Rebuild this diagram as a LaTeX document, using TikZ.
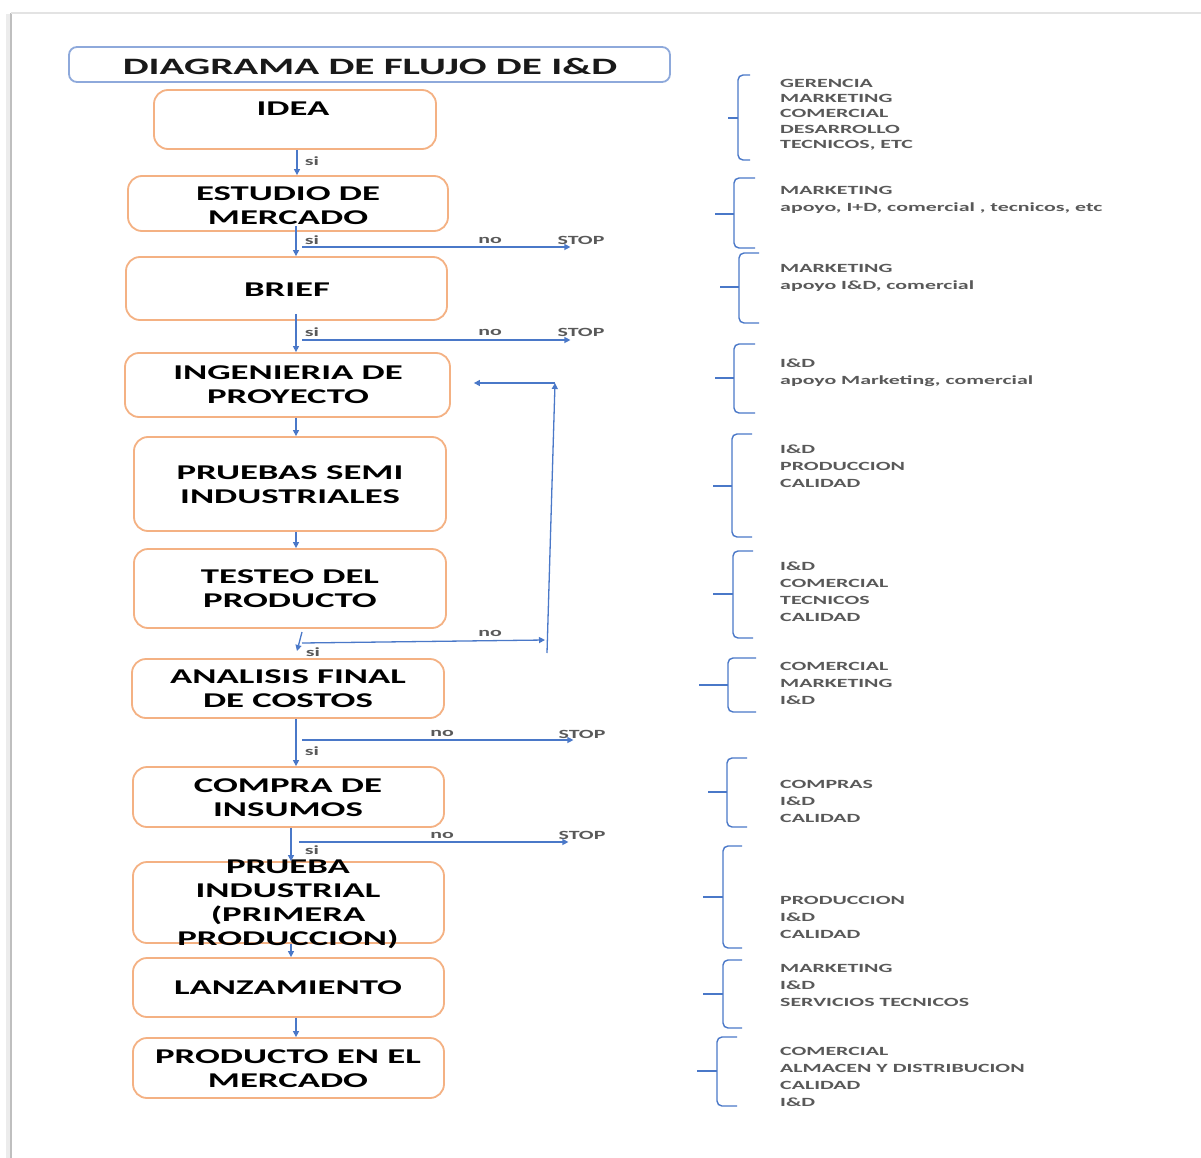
\documentclass[tikz,border=0pt]{standalone}
\usepackage{fontspec}
\setmainfont{Carlito}
\newfontfamily\widefont[FakeStretch=1.75]{Carlito}
\usetikzlibrary{arrows.meta,calc}

\definecolor{flowblue}{HTML}{4A78C8}
\definecolor{frameblue}{HTML}{8EA9DB}
\definecolor{boxorange}{HTML}{F4B183}
\definecolor{listgray}{HTML}{595959}

\tikzset{
  stepbox/.style={draw=boxorange, line width=1.8pt, rounded corners=14pt,
    inner sep=0pt, fill=white},
  titlebox/.style={draw=frameblue, line width=1.8pt, rounded corners=8pt,
    inner sep=0pt, fill=white},
  boxtext/.style={font=\widefont\bfseries\fontsize{21}{24}\selectfont,
    align=center, inner sep=0pt, text=black},
  titletext/.style={font=\widefont\bfseries\fontsize{23.5}{27}\selectfont,
    inner sep=0pt, text=black!90},
  flow/.style={draw=flowblue, line width=1.3pt,
    -{Triangle[length=6pt,width=6pt]}},
  small/.style={font=\widefont\bfseries\fontsize{12.5}{15}\selectfont,
    text=listgray, inner sep=0pt},
  roles/.style={small, align=left, anchor=west},
  roles1/.style={roles, font=\widefont\bfseries\fontsize{12.5}{15.3}\selectfont},
  roles2/.style={roles, font=\widefont\bfseries\fontsize{12.5}{17}\selectfont},
  bracket/.style={draw=flowblue, line width=1.4pt, rounded corners=5pt},
}

% a curly bracket: x of the spine, top, middle, bottom, tip of the end ticks, tip of the middle tick
\newcommand{\rolebracket}[6]{%
  \draw[bracket] (#5,#2) -- (#1,#2) -- (#1,#4) -- (#5,#4);
  \draw[bracket] (#6,#3) -- (#1,#3);
}

\begin{document}
\begin{tikzpicture}[x=1pt,y=-1pt]
\useasboundingbox (0,0) rectangle (1201,1158);
\fill[white] (0,0) rectangle (1201,1158);

% page edge
\draw[gray!15, line width=5pt] (8,14) -- (8,1158);
\draw[gray!50, line width=1.6pt] (11,13) -- (11,1158);
\draw[gray!22, line width=1.4pt] (11,13) -- (1201,13);

% title
\node[titlebox, minimum width=601pt, minimum height=35pt] (title) at (369.5,64.5) {};
\node[titletext] (titleT) at (370,66) {DIAGRAMA DE FLUJO DE I\&D};

% process boxes
\node[stepbox, minimum width=282pt, minimum height=59pt] (idea)     at (295,119.5) {};
\node[stepbox, minimum width=320pt, minimum height=55pt] (estudio)  at (288,203.5) {};
\node[stepbox, minimum width=321pt, minimum height=63pt] (brief)    at (286.5,288.5) {};
\node[stepbox, minimum width=325pt, minimum height=64pt] (ing)      at (287.5,385) {};
\node[stepbox, minimum width=312pt, minimum height=94pt] (pruebas)  at (290,484) {};
\node[stepbox, minimum width=312pt, minimum height=79pt] (testeo)   at (290,588.5) {};
\node[stepbox, minimum width=312pt, minimum height=59pt] (analisis) at (288,688.5) {};
\node[stepbox, minimum width=311pt, minimum height=60pt] (compra)   at (288.5,797) {};
\node[stepbox, minimum width=311pt, minimum height=81pt] (prueba)   at (288.5,902.5) {};
\node[stepbox, minimum width=311pt, minimum height=59pt] (lanz)     at (288.5,987.5) {};
\node[stepbox, minimum width=311pt, minimum height=60pt] (producto) at (288.5,1068) {};

\node[boxtext] (ideaT)     at (293,109) {IDEA};
\node[boxtext] (estudioT)  at (288,206) {ESTUDIO DE\\MERCADO};
\node[boxtext] (briefT)    at (287,290) {BRIEF};
\node[boxtext] (ingT)      at (288,385) {INGENIERIA DE\\PROYECTO};
\node[boxtext] (pruebasT)  at (290,485) {PRUEBAS SEMI\\INDUSTRIALES};
\node[boxtext] (testeoT)   at (290,589) {TESTEO DEL\\PRODUCTO};
\node[boxtext] (analisisT) at (288,689) {ANALISIS FINAL\\DE COSTOS};
\node[boxtext] (compraT)   at (288,798) {COMPRA DE\\INSUMOS};
\node[boxtext] (pruebaT)   at (288,904) {PRUEBA\\INDUSTRIAL\\(PRIMERA\\PRODUCCION)};
\node[boxtext] (lanzT)     at (288,988) {LANZAMIENTO};
\node[boxtext] (productoT) at (288,1069) {PRODUCTO EN EL\\MERCADO};

% spine of the flow
\coordinate (sp)  at (296,0);
\coordinate (spa) at (297,0);
\coordinate (spb) at (291,0);

\draw[flow] (spa |- idea.south) -- (spa |- estudio.north);
\draw[flow] ($(sp |- estudio.south)+(0,-6)$) -- (sp |- brief.north);
\draw[flow] ($(sp |- brief.south)+(0,-7)$) -- (sp |- ing.north);
\draw[flow] (sp |- ing.south) -- (sp |- pruebas.north);
\draw[flow] (sp |- pruebas.south) -- (sp |- testeo.north);
\draw[flow] (sp |- analisis.south) -- (sp |- compra.north);
\draw[flow] (spb |- compra.south) -- (spb |- prueba.north);
\draw[flow] (spb |- prueba.south) -- (spb |- lanz.north);
\draw[flow] (sp |- lanz.south) -- (sp |- producto.north);

% yes / no labels and stop branches
\node[small] (si1) at (312,161) {si};

\node[small] (si2) at (312,240) {si};
\node[small] (no2) at (490,240) {no};
\node[small] (stop2) at (581,240) {STOP};
\coordinate (br2) at (302,247);
\draw[flow] (br2) -- ([xshift=13pt]stop2.west |- br2);

\node[small] (si3) at (312,332) {si};
\node[small] (no3) at (490,332) {no};
\node[small] (stop3) at (581,332) {STOP};
\coordinate (br3) at (302,340);
\draw[flow] (br3) -- ([xshift=13pt]stop3.west |- br3);

\node[small] (si7) at (312,751) {si};
\node[small] (no7) at (442,733) {no};
\node[small] (stop7) at (582,734) {STOP};
\coordinate (br7) at (302,740);
\draw[flow] (br7) -- ([xshift=15pt]stop7.west |- br7);

\node[small] (si8) at (312,850) {si};
\node[small] (no8) at (442,835) {no};
\node[small] (stop8) at (582,835) {STOP};
\coordinate (br8) at (299,842);
\draw[flow] (br8) -- ([xshift=10pt]stop8.west |- br8);

% rework loop after product testing
\node[small] (si6) at (313,652) {si};
\node[small] (no6) at (490,633) {no};
\coordinate (t6a) at (302,632);
\coordinate (t6b) at (297,651);
\coordinate (t6c) at (302,643);
\coordinate (t6d) at (545,640);
\coordinate (loopB) at (547,653);
\coordinate (loopT) at (555,383);
\draw[flow] (t6a) -- (t6b);
\draw[flow] (t6c) -- (t6d);
\draw[flow] (loopB) -- (loopT);
\draw[flow] (loopT) -- ([xshift=23pt]ing.east |- loopT);

% areas involved at each stage
\rolebracket{738}{75}{118}{160}{750}{728}
\node[roles1] (r1) at (780,114.5) {GERENCIA\\MARKETING\\COMERCIAL\\DESARROLLO\\TECNICOS, ETC};

\rolebracket{734}{178}{214}{248}{755}{715}
\node[roles2] (r2) at (780,200) {MARKETING\\apoyo, I+D, comercial , tecnicos, etc};

\rolebracket{739}{253}{287}{323}{759}{720}
\node[roles2] (r3) at (780,277.5) {MARKETING\\apoyo I\&D, comercial};

\rolebracket{734}{344}{378}{413}{755}{715}
\node[roles2] (r4) at (780,373) {I\&D\\apoyo Marketing, comercial};

\rolebracket{732}{434}{486}{537}{752}{713}
\node[roles2] (r5) at (780,466) {I\&D\\PRODUCCION\\CALIDAD};

\rolebracket{733}{551}{594}{638}{753}{713}
\node[roles2] (r6) at (780,591.5) {I\&D\\COMERCIAL\\TECNICOS\\CALIDAD};

\rolebracket{728}{658}{685}{712}{756}{699}
\node[roles2] (r7) at (780,683) {COMERCIAL\\MARKETING\\I\&D};

\rolebracket{727}{758}{792}{827}{747}{708}
\node[roles2] (r8) at (780,801) {COMPRAS\\I\&D\\CALIDAD};

\rolebracket{723}{846}{897}{948}{742}{703}
\node[roles2] (r9) at (780,917.5) {PRODUCCION\\I\&D\\CALIDAD};

\rolebracket{723}{960}{994}{1028}{742}{703}
\node[roles2] (r10) at (780,985) {MARKETING\\I\&D\\SERVICIOS TECNICOS};

\rolebracket{717}{1037}{1071}{1106}{737}{697}
\node[roles2] (r11) at (780,1076.5) {COMERCIAL\\ALMACEN Y DISTRIBUCION\\CALIDAD\\I\&D};

\end{tikzpicture}
\end{document}
